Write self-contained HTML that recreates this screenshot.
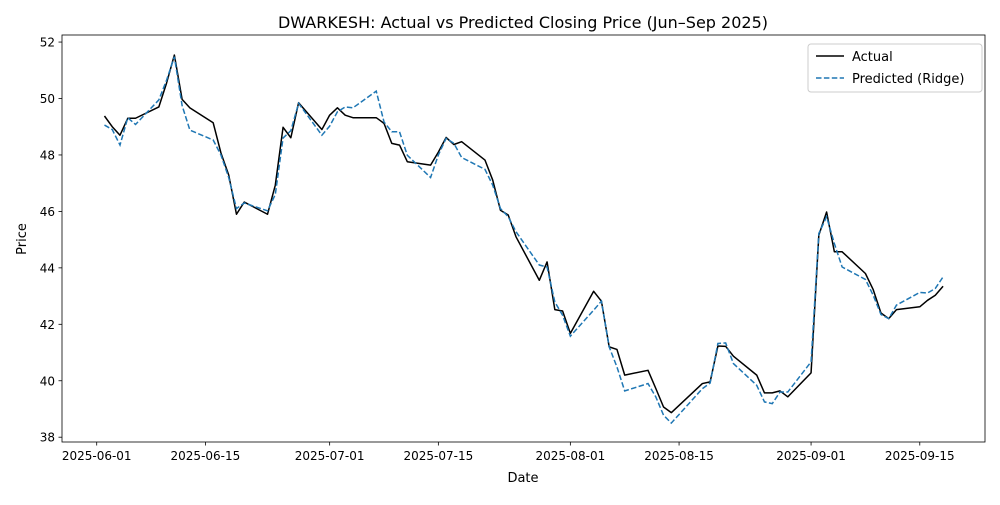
<!DOCTYPE html>
<html><head><meta charset="utf-8"><style>
body{margin:0;background:#fff;}
svg text{font-family:"DejaVu Sans","Liberation Sans",sans-serif;fill:#000;}
</style></head><body>
<svg id="chart" width="1000" height="500" xmlns="http://www.w3.org/2000/svg">
<rect x="0" y="0" width="1000" height="500" fill="#fff"/>
<text x="523" y="28" font-size="16" text-anchor="middle">DWARKESH: Actual vs Predicted Closing Price (Jun–Sep 2025)</text>
<g id="plot"></g>
<text x="523" y="482" font-size="13" text-anchor="middle">Date</text>
<text transform="translate(26,239) rotate(-90)" font-size="13" text-anchor="middle">Price</text>
<g>
<rect x="808" y="44" width="174" height="48" fill="#fff" stroke="#ccc" rx="3"/>
<line x1="816" y1="56" x2="844" y2="56" stroke="#000" stroke-width="1.5"/>
<text x="852" y="61" font-size="13">Actual</text>
<line x1="816" y1="78" x2="844" y2="78" stroke="#1f77b4" stroke-width="1.5" stroke-dasharray="5.5,2.4"/>
<text x="852" y="83" font-size="13">Predicted (Ridge)</text>
</g>
</svg>
<script>
const dates=["06-02","06-03","06-04","06-05","06-06","06-09","06-10","06-11","06-12","06-13","06-16","06-17","06-18","06-19","06-20","06-23","06-24","06-25","06-26","06-27","06-30","07-01","07-02","07-03","07-04","07-07","07-08","07-09","07-10","07-11","07-14","07-15","07-16","07-17","07-18","07-21","07-22","07-23","07-24","07-25","07-28","07-29","07-30","07-31","08-01","08-04","08-05","08-06","08-07","08-08","08-11","08-12","08-13","08-14","08-18","08-19","08-20","08-21","08-22","08-25","08-26","08-27","08-28","08-29","09-01","09-02","09-03","09-04","09-05","09-08","09-09","09-10","09-11","09-12","09-15","09-16","09-17","09-18"];
const actual=[49.38,49.0,48.7,49.3,49.3,49.7,50.55,51.54,49.97,49.67,49.14,48.07,47.29,45.9,46.33,45.9,46.93,48.98,48.61,49.85,48.9,49.41,49.67,49.41,49.32,49.32,49.12,48.41,48.35,47.76,47.64,48.1,48.62,48.37,48.47,47.82,47.11,46.04,45.87,45.1,43.56,44.21,42.52,42.47,41.68,43.17,42.82,41.2,41.11,40.2,40.37,39.73,39.07,38.87,39.9,39.96,41.23,41.22,40.87,40.2,39.57,39.57,39.64,39.43,40.28,45.16,45.98,44.57,44.57,43.8,43.23,42.4,42.2,42.52,42.62,42.85,43.03,43.35];
const predicted=[49.06,48.9,48.35,49.32,49.08,49.95,50.65,51.48,49.75,48.88,48.53,48.0,47.2,46.1,46.3,46.02,46.6,48.6,48.86,49.83,48.7,49.02,49.53,49.7,49.67,50.26,49.17,48.82,48.82,47.99,47.2,48.0,48.59,48.41,47.91,47.49,46.93,46.1,45.81,45.28,44.1,44.03,42.79,42.32,41.58,42.5,42.82,41.2,40.49,39.64,39.9,39.43,38.78,38.5,39.72,39.92,41.32,41.34,40.61,39.84,39.25,39.19,39.6,39.6,40.67,45.22,45.81,44.86,44.03,43.59,43.03,42.35,42.2,42.68,43.13,43.11,43.27,43.68];
const yTicks=[38,40,42,44,46,48,50,52];
const xTicks=["06-01","06-15","07-01","07-15","08-01","08-15","09-01","09-15"];
const L=62,R=985,T=35,B=442;
const t0=Date.UTC(2025,5,1);
function day(s){const [m,d]=s.split("-").map(Number);return (Date.UTC(2025,m-1,d)-t0)/86400000;}
const dMin=-4.47,dMax=114.4,vMin=37.83,vMax=52.25;
function X(s){return L+(day(s)-dMin)/(dMax-dMin)*(R-L);}
function Y(v){return B-(v-vMin)/(vMax-vMin)*(B-T);}
const NS="http://www.w3.org/2000/svg";
const g=document.getElementById("plot");
function mk(tag,attrs){const e=document.createElementNS(NS,tag);for(const k in attrs)e.setAttribute(k,attrs[k]);g.appendChild(e);return e;}
yTicks.forEach(v=>{
  const y=Y(v);
  const tk=mk("line",{x1:L-3.5,x2:L,y1:y,y2:y,stroke:"#000","stroke-width":0.8});
  
  
  const t=mk("text",{x:L-7,y:y+4.5,"font-size":12,"text-anchor":"end"});
  
  
  t.textContent=v;
});
xTicks.forEach(s=>{
  const x=X(s);
  const tk=mk("line",{x1:x,x2:x,y1:B,y2:B+3.5,stroke:"#000","stroke-width":0.8});
  
  
  const t=mk("text",{x:x,y:B+18,"font-size":12,"text-anchor":"middle"});
  
  
  t.textContent="2025-"+s;
});
function pts(arr){return arr.map((v,i)=>X(dates[i]).toFixed(2)+","+Y(v).toFixed(2)).join(" ");}
const la=mk("polyline",{points:pts(actual),fill:"none",stroke:"#000","stroke-width":1.5,"stroke-linejoin":"round"});


const lp=mk("polyline",{points:pts(predicted),fill:"none",stroke:"#1f77b4","stroke-width":1.5,"stroke-dasharray":"5.5,2.4"});


const fr=mk("rect",{x:L,y:T,width:R-L,height:B-T,fill:"none",stroke:"#000","stroke-width":0.8});


</script>
</body></html>
